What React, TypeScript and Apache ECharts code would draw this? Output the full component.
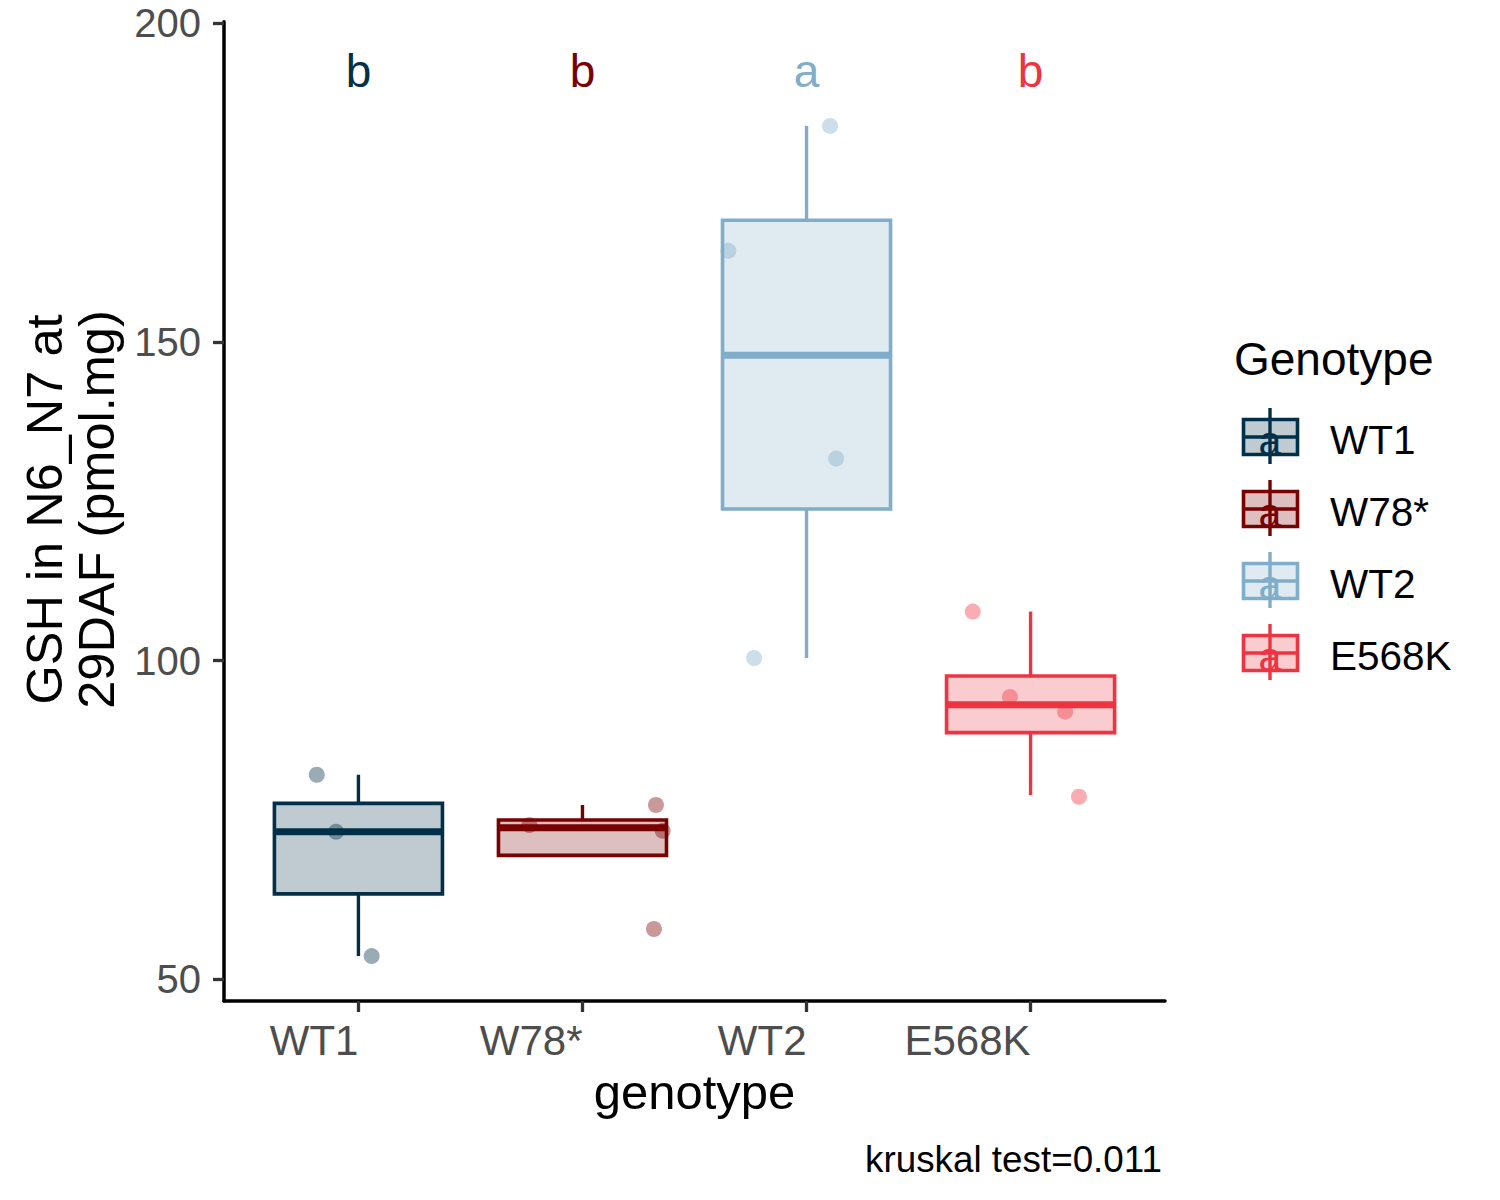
import React, { useEffect, useRef } from "react";
import * as echarts from "echarts";

const CATEGORIES = ["WT1", "W78*", "WT2", "E568K"];
const COLORS = ["#003049", "#780000", "#80ADC9", "#EF3340"];
const LETTERS = ["b", "b", "a", "b"];
const LETTER_Y = 192.5;
const X_TICKS = [1, 2, 3, 4];
const Y_TICKS = [50, 100, 150, 200];

// box stats: [lower whisker, Q1, median, Q3, upper whisker]
const BOX_WT1 = [53.65, 63.4, 73.15, 77.6, 82.1];
const BOX_W78 = [69.45, 69.45, 73.8, 75.0, 77.35];
const BOX_WT2 = [100.4, 123.8, 147.9, 169.1, 183.9];
const BOX_E568K = [78.9, 88.7, 93.1, 97.6, 107.7];

// jittered points (x in category units, y in pmol.mg)
const PTS_X_WT1 = [0.814, 0.9, 1.059];
const PTS_Y_WT1 = [82.1, 73.15, 53.65];
const PTS_X_W78 = [1.763, 2.328, 2.358, 2.319];
const PTS_Y_W78 = [74.2, 77.35, 73.3, 57.9];
const PTS_X_WT2 = [3.105, 2.651, 3.132, 2.766];
const PTS_Y_WT2 = [183.9, 164.3, 131.7, 100.4];
const PTS_X_E568K = [3.742, 3.908, 4.154, 4.216];
const PTS_Y_E568K = [107.7, 94.3, 92.0, 78.65];

const BOXES = [BOX_WT1, BOX_W78, BOX_WT2, BOX_E568K];
const PTS_X = [PTS_X_WT1, PTS_X_W78, PTS_X_WT2, PTS_X_E568K];
const PTS_Y = [PTS_Y_WT1, PTS_Y_W78, PTS_Y_WT2, PTS_Y_E568K];

const FONT = "'Liberation Sans', Arial, sans-serif";
const BOX_WIDTH = 0.75;

function rgba(hex: string, a: number) {
  const n = parseInt(hex.slice(1), 16);
  return `rgba(${(n >> 16) & 255},${(n >> 8) & 255},${n & 255},${a})`;
}

function buildOption() {
  const boxData = BOXES.map((b, i) => [i + 1, b[0], b[1], b[2], b[3], b[4], i]);

  const boxSeries: any = {
    type: "custom",
    name: "boxes",
    clip: false,
    z: 2,
    data: boxData,
    encode: { x: 0, y: [1, 2, 3, 4, 5] },
    renderItem: (params: any, api: any) => {
      const x = api.value(0);
      const ci = api.value(6);
      const color = COLORS[ci];
      const half = api.size([BOX_WIDTH, 0])[0] / 2;
      const pLo = api.coord([x, api.value(1)]);
      const pQ1 = api.coord([x, api.value(2)]);
      const pMed = api.coord([x, api.value(3)]);
      const pQ3 = api.coord([x, api.value(4)]);
      const pHi = api.coord([x, api.value(5)]);
      const cx = pMed[0];
      return {
        type: "group",
        children: [
          {
            type: "line",
            shape: { x1: cx, y1: pHi[1], x2: cx, y2: pQ3[1] },
            style: { stroke: color, lineWidth: 3.4 },
          },
          {
            type: "line",
            shape: { x1: cx, y1: pQ1[1], x2: cx, y2: pLo[1] },
            style: { stroke: color, lineWidth: 3.4 },
          },
          {
            type: "rect",
            shape: { x: cx - half, y: pQ3[1], width: half * 2, height: pQ1[1] - pQ3[1] },
            style: { fill: rgba(color, 0.25), stroke: color, lineWidth: 3.6 },
          },
          {
            type: "line",
            shape: { x1: cx - half, y1: pMed[1], x2: cx + half, y2: pMed[1] },
            style: { stroke: color, lineWidth: 7 },
          },
        ],
      };
    },
  };

  const pointSeries = CATEGORIES.map((name, i) => ({
    type: "scatter",
    name,
    z: 3,
    symbol: "circle",
    symbolSize: 16,
    data: PTS_X[i].map((px, k) => [px, PTS_Y[i][k]]),
    itemStyle: { color: rgba(COLORS[i], 0.5) },
    silent: true,
  }));

  const letterSeries: any = {
    type: "custom",
    name: "letters",
    clip: false,
    z: 4,
    data: LETTERS.map((_, i) => [i + 1, LETTER_Y, i]),
    encode: { x: 0, y: 1 },
    renderItem: (params: any, api: any) => {
      const p = api.coord([api.value(0), api.value(1)]);
      const i = api.value(2);
      return {
        type: "text",
        x: p[0],
        y: p[1],
        style: {
          text: LETTERS[i],
          fill: COLORS[i],
          fontSize: 46,
          fontFamily: FONT,
          align: "center",
          verticalAlign: "middle",
        },
      };
    },
  };

  const legendEls: any[] = [
    {
      type: "text",
      x: 1234,
      y: 359,
      style: {
        text: "Genotype",
        fontSize: 46,
        fontFamily: FONT,
        fill: "#000",
        align: "left",
        verticalAlign: "middle",
      },
    },
  ];
  CATEGORIES.forEach((name, i) => {
    const cy = 437 + 72 * i;
    const c = COLORS[i];
    legendEls.push(
      {
        type: "line",
        shape: { x1: 1270, y1: cy - 29, x2: 1270, y2: cy + 27 },
        style: { stroke: c, lineWidth: 3.4 },
      },
      {
        type: "rect",
        shape: { x: 1243.5, y: cy - 17.5, width: 54, height: 35 },
        style: { fill: rgba(c, 0.25), stroke: c, lineWidth: 3.6 },
      },
      {
        type: "line",
        shape: { x1: 1243.5, y1: cy, x2: 1297.5, y2: cy },
        style: { stroke: c, lineWidth: 3.4 },
      },
      {
        type: "text",
        x: 1270,
        y: cy + 3.5,
        style: {
          text: "a",
          fontSize: 41,
          fontFamily: FONT,
          fill: c,
          align: "center",
          verticalAlign: "middle",
        },
      },
      {
        type: "text",
        x: 1330,
        y: cy + 3,
        style: {
          text: name,
          fontSize: 40.5,
          fontFamily: FONT,
          fill: "#000",
          align: "left",
          verticalAlign: "middle",
        },
      }
    );
  });

  return {
    animation: false,
    backgroundColor: "#ffffff",
    textStyle: { fontFamily: FONT },
    grid: { left: 224, right: 335, top: 21.7, bottom: 199, containLabel: false },
    xAxis: {
      type: "value",
      min: 0.4,
      max: 4.6,
      splitLine: { show: false },
      axisLine: { show: true, onZero: false, lineStyle: { color: "#000", width: 3.5 } },
      axisTick: {
        show: true,
        customValues: X_TICKS,
        length: 11,
        lineStyle: { color: "#333333", width: 3.3 },
      },
      axisLabel: {
        show: true,
        customValues: X_TICKS,
        formatter: (v: number) => CATEGORIES[Math.round(v) - 1] ?? "",
        align: "right",
        verticalAlign: "top",
        lineHeight: 42,
        fontSize: 42,
        fontFamily: FONT,
        color: "#4D4D4D",
        margin: 18,
      },
    },
    yAxis: {
      type: "value",
      min: 46.6,
      max: 200.25,
      splitLine: { show: false },
      axisLine: { show: true, onZero: false, lineStyle: { color: "#000", width: 3.5 } },
      axisTick: {
        show: true,
        customValues: Y_TICKS,
        length: 11,
        lineStyle: { color: "#333333", width: 3.3 },
      },
      axisLabel: {
        show: true,
        customValues: Y_TICKS,
        fontSize: 40,
        fontFamily: FONT,
        color: "#4D4D4D",
        margin: 23,
        padding: [6, 0, 0, 0],
      },
    },
    graphic: [
      {
        type: "text",
        x: 70.8,
        y: 509.5,
        rotation: Math.PI / 2,
        style: {
          text: "GSH in N6_N7 at\n29DAF (pmol.mg)",
          fontSize: 50.5,
          lineHeight: 52,
          fontFamily: FONT,
          fill: "#000",
          align: "center",
          verticalAlign: "middle",
        },
      },
      {
        type: "text",
        x: 694.5,
        y: 1092,
        style: {
          text: "genotype",
          fontSize: 49,
          fontFamily: FONT,
          fill: "#000",
          align: "center",
          verticalAlign: "middle",
        },
      },
      {
        type: "text",
        x: 1162,
        y: 1159,
        style: {
          text: "kruskal test=0.011",
          fontSize: 36.8,
          fontFamily: FONT,
          fill: "#000",
          align: "right",
          verticalAlign: "middle",
        },
      },
      ...legendEls,
    ],
    series: [boxSeries, ...pointSeries, letterSeries],
  };
}

export default function App() {
  const ref = useRef<HTMLDivElement>(null);
  useEffect(() => {
    document.body.style.margin = "0";
    const chart = echarts.init(ref.current!, null, { renderer: "svg" });
    chart.setOption(buildOption() as any);
    return () => chart.dispose();
  }, []);
  return <div ref={ref} style={{ width: 1500, height: 1200 }} />;
}
